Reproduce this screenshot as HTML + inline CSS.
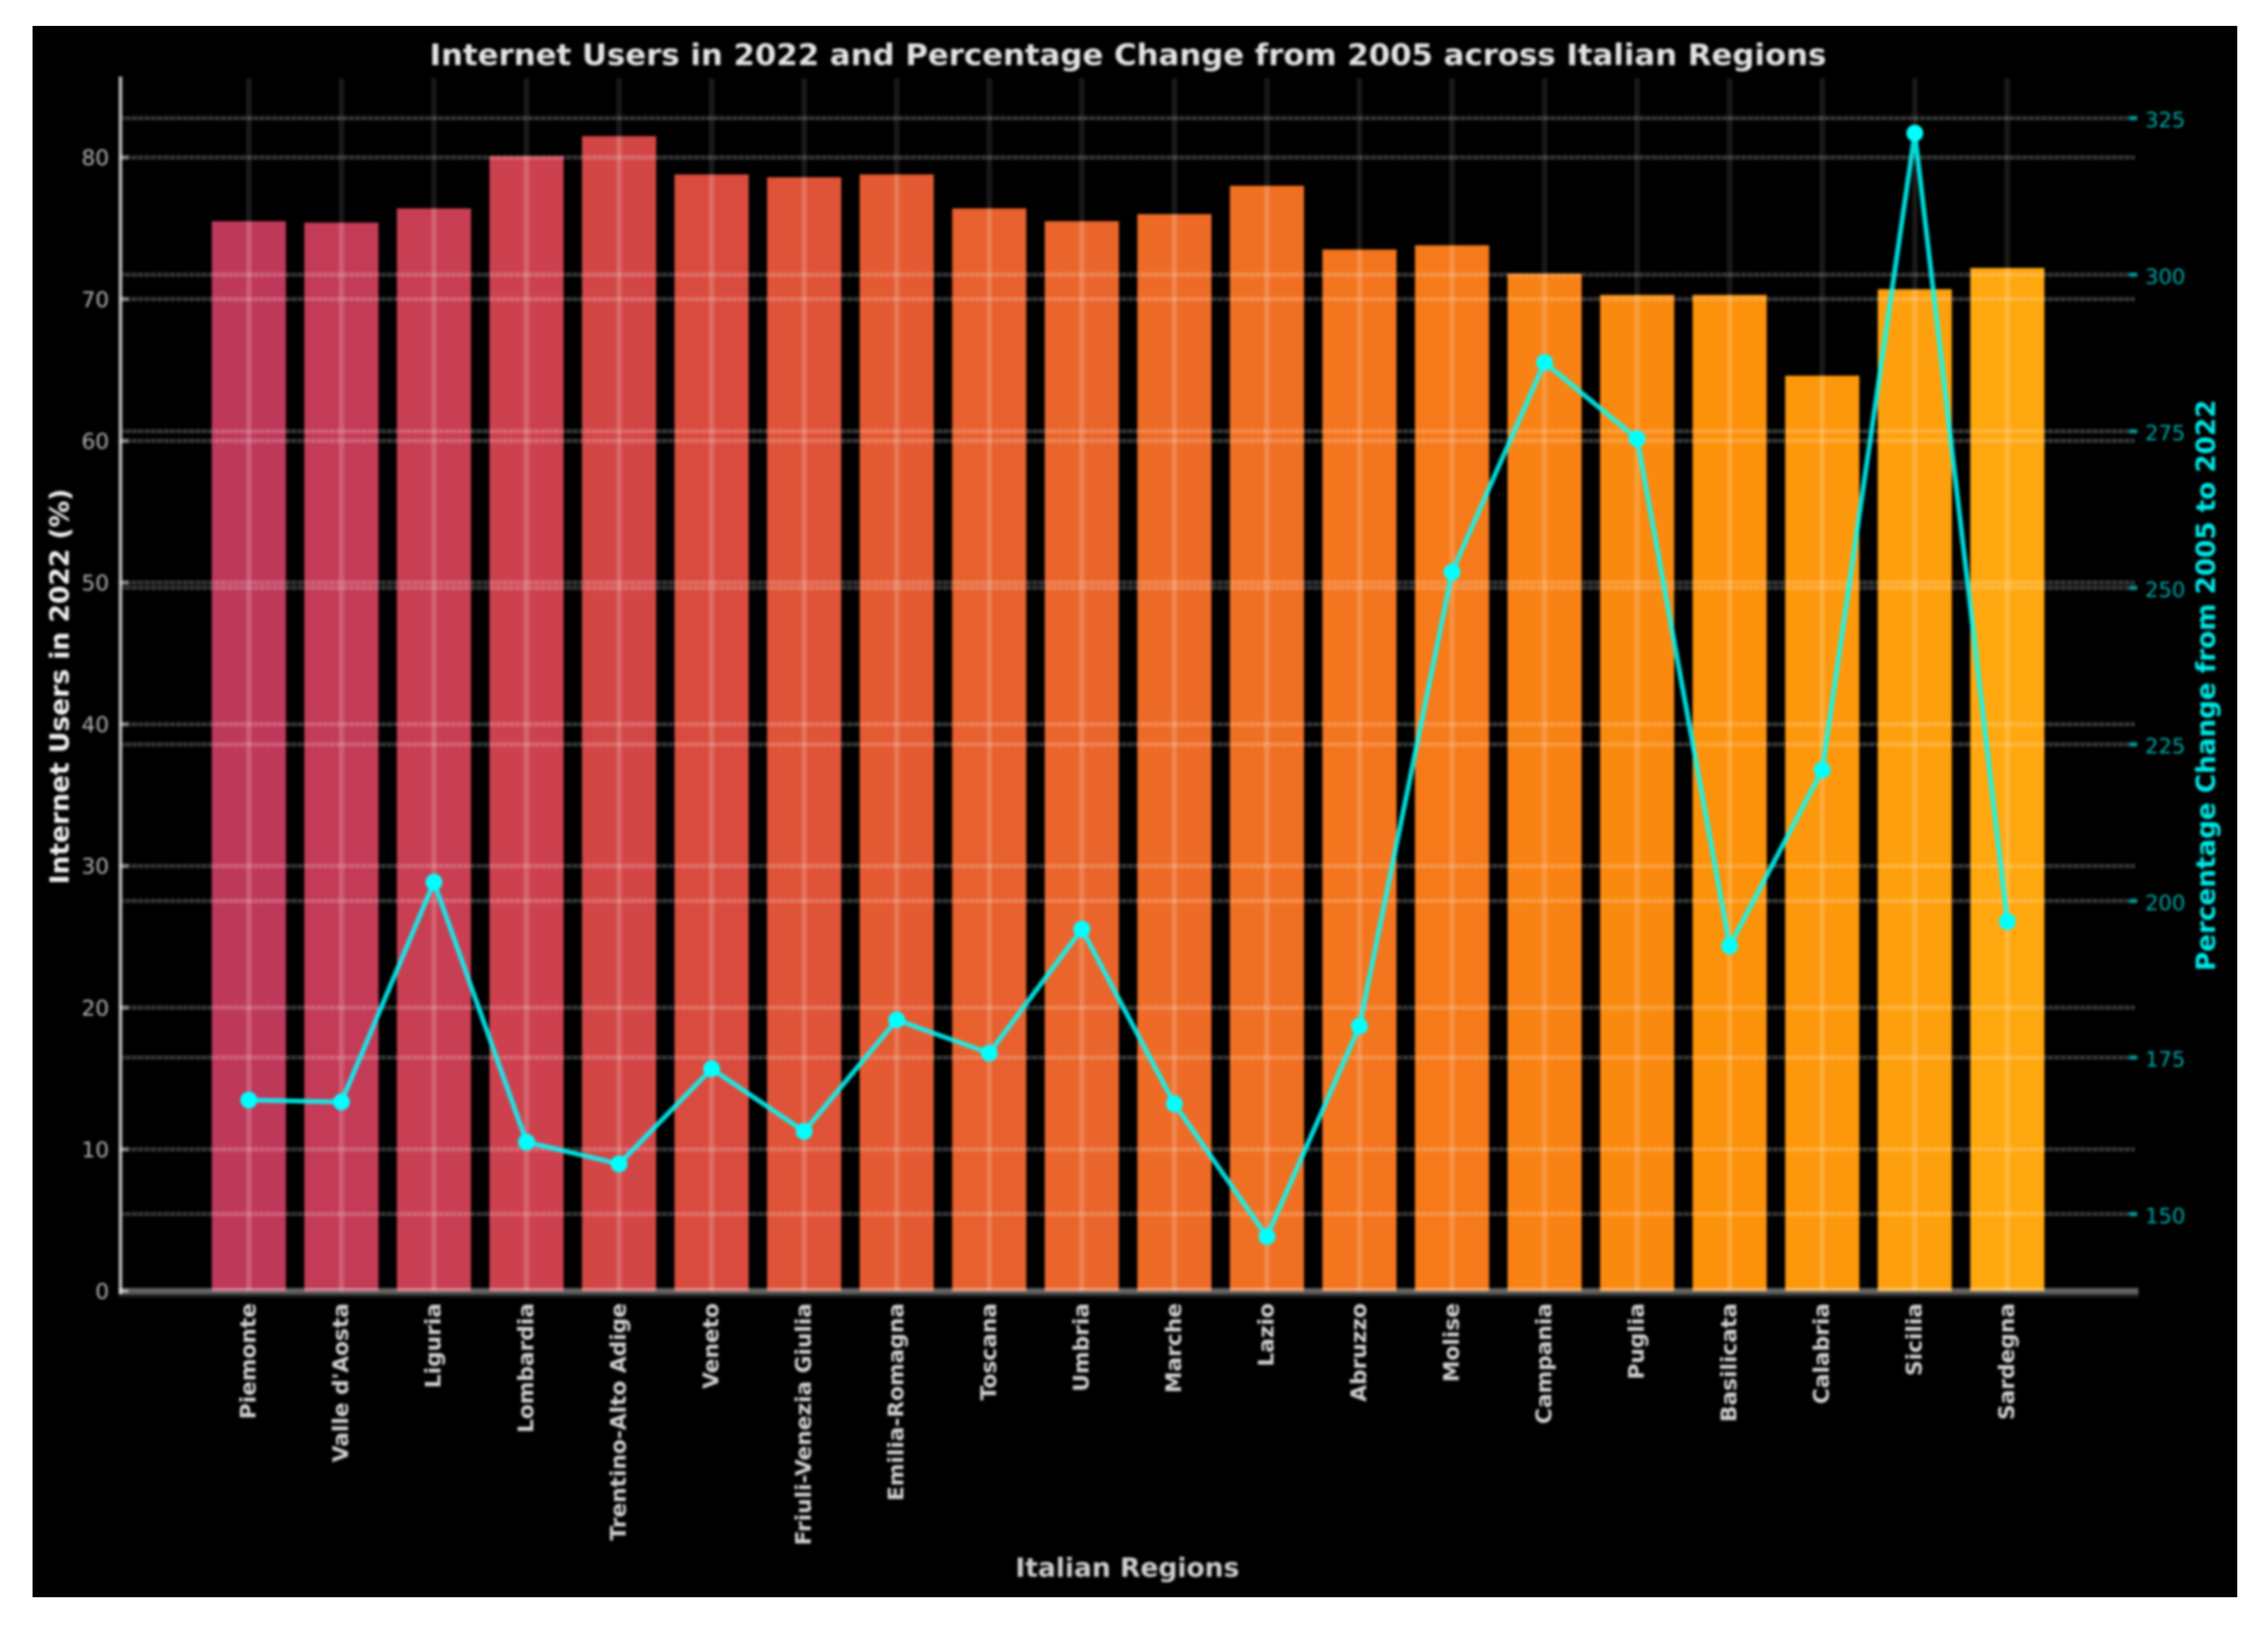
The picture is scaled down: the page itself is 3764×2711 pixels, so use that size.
<!DOCTYPE html>
<html lang="en">
<head>
<meta charset="utf-8">
<title>Internet Users in 2022 and Percentage Change from 2005 across Italian Regions</title>
<style>
html,body{margin:0;padding:0;background:#fff;}
svg{display:block;}
text{font-family:"DejaVu Sans","Liberation Sans",sans-serif;}
</style>
</head>
<body>
<svg id="chart" xmlns="http://www.w3.org/2000/svg" width="3764" height="2711" viewBox="0 0 3764 2711">
  <defs>
    <filter id="soft" filterUnits="userSpaceOnUse" x="0" y="0" width="3764" height="2711" color-interpolation-filters="sRGB">
      <feGaussianBlur stdDeviation="2.1"/>
    </filter>
  </defs>
  <rect x="0" y="0" width="3764" height="2711" fill="#ffffff"/>
  <rect x="54" y="43" width="3659" height="2607" fill="#000000"/>
  <g id="plot" filter="url(#soft)">
    <g id="bars"></g>
    <g id="grid"></g>
    <g id="axes"></g>
    <g id="series"></g>
    <g id="labels"></g>
    <text x="1872" y="108" text-anchor="middle" font-size="49" font-weight="700" fill="#e4e4e4" textLength="2318" lengthAdjust="spacingAndGlyphs">Internet Users in 2022 and Percentage Change from 2005 across Italian Regions</text>
    <text x="1871" y="2616" text-anchor="middle" font-size="44" font-weight="700" fill="#cfcfcf">Italian Regions</text>
    <text transform="translate(114 1139) rotate(-90)" text-anchor="middle" font-size="44" font-weight="700" fill="#f2f2f2">Internet Users in 2022 (%)</text>
    <text transform="translate(3676 1137) rotate(-90)" text-anchor="middle" font-size="44" font-weight="700" fill="#00e8e8" textLength="948" lengthAdjust="spacingAndGlyphs">Percentage Change from 2005 to 2022</text>
  </g>
</svg>
<script>
const regions = ["Piemonte","Valle d'Aosta","Liguria","Lombardia","Trentino-Alto Adige","Veneto","Friuli-Venezia Giulia","Emilia-Romagna","Toscana","Umbria","Marche","Lazio","Abruzzo","Molise","Campania","Puglia","Basilicata","Calabria","Sicilia","Sardegna"];
const internetUsers2022 = [75.5,75.4,76.4,80.1,81.5,78.8,78.6,78.8,76.4,75.5,76.0,78.0,73.5,73.8,71.8,70.3,70.3,64.6,70.7,72.2];
const percentChange = [168.2,167.9,203.0,161.5,158.0,173.2,163.2,181.0,175.7,195.5,167.6,146.4,180.0,252.5,286.0,273.8,192.8,220.9,322.6,196.7];
const leftTicks = [0,10,20,30,40,50,60,70,80];
const rightTicks = [150,175,200,225,250,275,300,325];

const NS = "http://www.w3.org/2000/svg";
const xOf = i => 413 + i * 153.6;
const yLeft = v => 2142 - v * 23.51;
const yRight = v => 196 + (325 - v) * 10.39;
const BAR_W = 123, AXIS_L = 199, AXIS_R = 3549, GRID_R = 3543, GRID_T = 130;

const colorStops = [[0,190,56,90],[3,205,65,78],[5,217,75,62],[7,228,90,50],[11,240,112,35],[13,246,122,25],[16,252,145,10],[19,255,167,15]];
function barColor(i){
  for(let k=0;k<colorStops.length-1;k++){
    const a=colorStops[k], b=colorStops[k+1];
    if(i>=a[0] && i<=b[0]){
      const t=(i-a[0])/(b[0]-a[0]);
      return "rgb("+[1,2,3].map(c=>Math.round(a[c]+(b[c]-a[c])*t)).join(",")+")";
    }
  }
  return "rgb(255,167,15)";
}
function mk(tag, parent, attrs, txt){
  const el=document.createElementNS(NS,tag);
  for(const k in attrs) el.setAttribute(k,attrs[k]);
  if(txt!==undefined) el.textContent=txt;
  parent.appendChild(el);
  return el;
}
const gBars=document.getElementById("bars"), gGrid=document.getElementById("grid"), gAxes=document.getElementById("axes"), gSeries=document.getElementById("series"), gLabels=document.getElementById("labels");

regions.forEach((r,i)=>{
  const top=yLeft(internetUsers2022[i]);
  const bar=mk("rect",gBars,{x:xOf(i)-BAR_W/2,y:top,width:BAR_W,height:yLeft(0)-top,fill:barColor(i)});
  
  
});

function hGrid(y, nm){
  const a=mk("line",gGrid,{x1:AXIS_L,x2:GRID_R,y1:y,y2:y,stroke:"#fff","stroke-opacity":0.14,"stroke-width":7});
  
  
  const b=mk("line",gGrid,{x1:AXIS_L,x2:GRID_R,y1:y,y2:y,stroke:"#fff","stroke-opacity":0.1,"stroke-width":7,"stroke-dasharray":"5.3 5.3"});
  
  
}
leftTicks.slice(1).forEach(v=>hGrid(yLeft(v),'grid-line-left-'+v));
rightTicks.forEach(v=>hGrid(yRight(v),'grid-line-right-'+v));

regions.forEach((r,i)=>{
  const x=xOf(i);
  const a=mk("line",gGrid,{x1:x,x2:x,y1:GRID_T,y2:yLeft(0),stroke:"#fff","stroke-opacity":0.1,"stroke-width":9});
  
  
  const b=mk("line",gGrid,{x1:x,x2:x,y1:yLeft(internetUsers2022[i]),y2:yLeft(0),stroke:"#fff","stroke-opacity":0.1,"stroke-width":8});
  
  
});

const spineL=mk("rect",gAxes,{x:197,y:127,width:6,height:2020,fill:"#b4b4b4"});


const spineB=mk("rect",gAxes,{x:197,y:2137,width:AXIS_R-197,height:10,fill:"#fff","fill-opacity":0.38});


const spineB2=mk("rect",gAxes,{x:197,y:2147,width:AXIS_R-197,height:5,fill:"#fff","fill-opacity":0.14});



leftTicks.forEach(v=>{
  const y=yLeft(v);
  const t=mk("rect",gAxes,{x:199,y:y-3.5,width:14,height:7,fill:"#fff","fill-opacity":0.4});
  
  
  const l=mk("text",gLabels,{x:181,y:y+13,"text-anchor":"end","font-size":36,fill:"#b4b4b4"},String(v));
  
  
});
rightTicks.forEach(v=>{
  const y=yRight(v);
  const t=mk("rect",gAxes,{x:3534,y:y-3.5,width:13,height:7,fill:"#009a9a"});
  
  
  const l=mk("text",gLabels,{x:3560,y:y+15,"font-size":35,fill:"#00a8a8"},String(v));
  
  
});
regions.forEach((r,i)=>{
  const x=xOf(i)-2;
  const l=mk("text",gLabels,{transform:"translate("+x+" 2162) rotate(-90)","text-anchor":"end",dy:"0.36em","font-size":36,"font-weight":700,fill:"#d2d2d2"},r);
  
  
});

const linePoints=percentChange.map((v,i)=>xOf(i)+","+yRight(v)).join(" ");
const line=mk("polyline",gSeries,{points:linePoints,fill:"none",stroke:"#00ffff","stroke-opacity":0.85,"stroke-width":8,"stroke-linejoin":"round"});


percentChange.forEach((v,i)=>{
  const c=mk("circle",gSeries,{cx:xOf(i),cy:yRight(v),r:14,fill:"#00ffff"});
  
  
});
</script>
</body>
</html>
